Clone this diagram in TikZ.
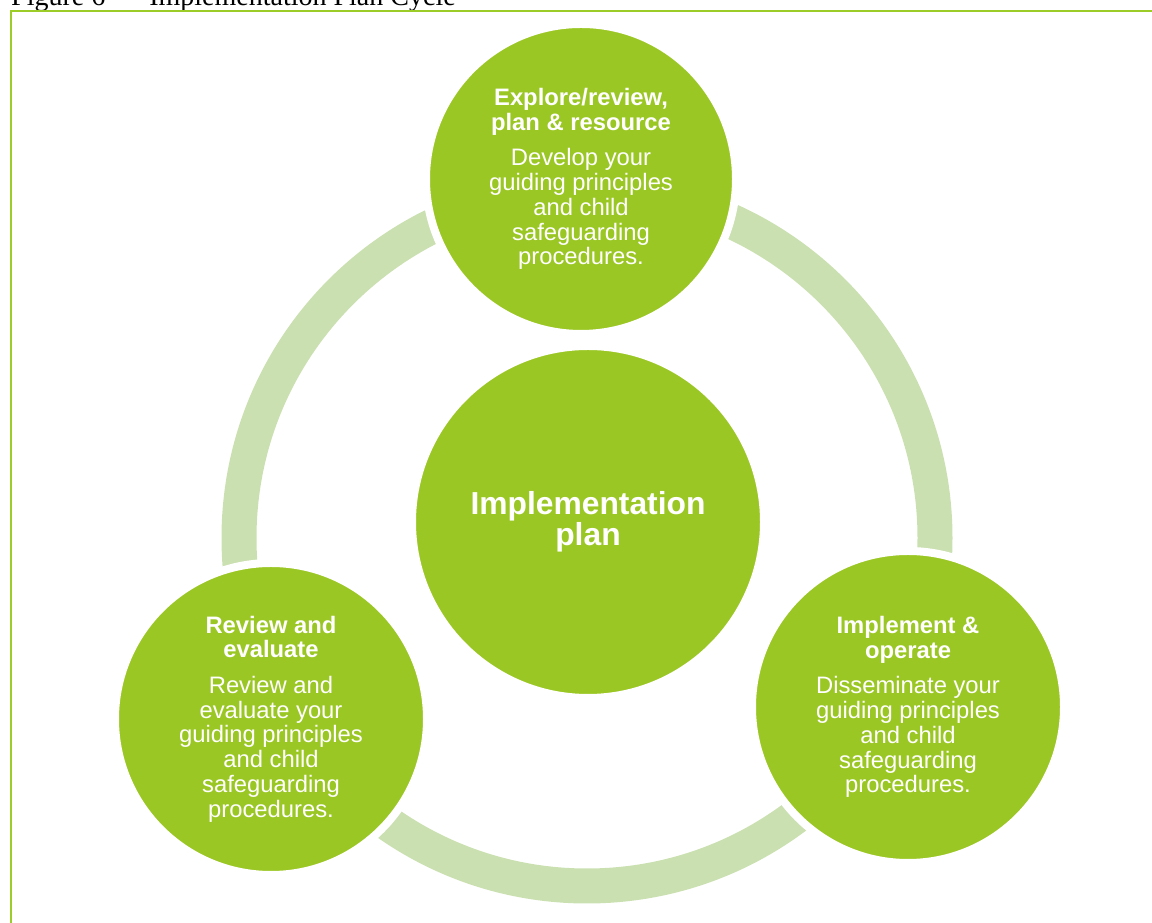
\documentclass[tikz,border=0pt]{standalone}
\usepackage{fontspec}
\setsansfont{Liberation Sans}
\newfontfamily\capfont{Liberation Serif}
\definecolor{leaf}{RGB}{155,199,36}
\definecolor{leafline}{RGB}{155,204,40}
\definecolor{ringgreen}{RGB}{202,224,176}
\tikzset{
  stage/.style={circle, fill=leaf, draw=white, line width=8pt, minimum size=#1,
    inner sep=0pt, text=white, align=center,
    font=\sffamily\fontsize{23.8}{24.7}\selectfont},
  hub/.style={circle, fill=leaf, draw=white, line width=8pt, minimum size=#1,
    inner sep=0pt, text=white, align=center,
    font=\sffamily\bfseries\fontsize{31.8}{31.5}\selectfont},
  ringband/.style={draw=ringgreen, line width=35pt},
  frame/.style={draw=leafline, line width=2pt},
}
\begin{document}
\begin{tikzpicture}[x=1pt,y=1pt]
\useasboundingbox (0,0) rectangle (1152,923);
% caption (cut off at top)
\node[anchor=base west, inner sep=0pt, font=\capfont\fontsize{28}{30}\selectfont]
  (caption) at (11,917) {Figure 6\hspace{8pt} –\hspace{8pt} Implementation Plan Cycle};
% frame
\draw[frame] (11,-10) rectangle (1170,912);
% ring
\coordinate (ringc) at (587,385);
\draw[ringband] (ringc) circle[radius=348];
% circles
\node[stage=310] (explore) at (581,744)
  {\textbf{Explore/review,}\\\textbf{plan \& resource}\\[11pt]Develop your\\guiding principles\\and child\\safeguarding\\procedures.};
\node[hub=352] (plan) at (588,401) {Implementation\\plan};
\node[stage=312] (review) at (271,204)
  {\textbf{Review and}\\\textbf{evaluate}\\[11pt]Review and\\evaluate your\\guiding principles\\and child\\safeguarding\\procedures.};
\node[stage=312] (implement) at (908,216)
  {\textbf{Implement \&}\\\textbf{operate}\\[11pt]Disseminate your\\guiding principles\\and child\\safeguarding\\procedures.};
\end{tikzpicture}
\end{document}
